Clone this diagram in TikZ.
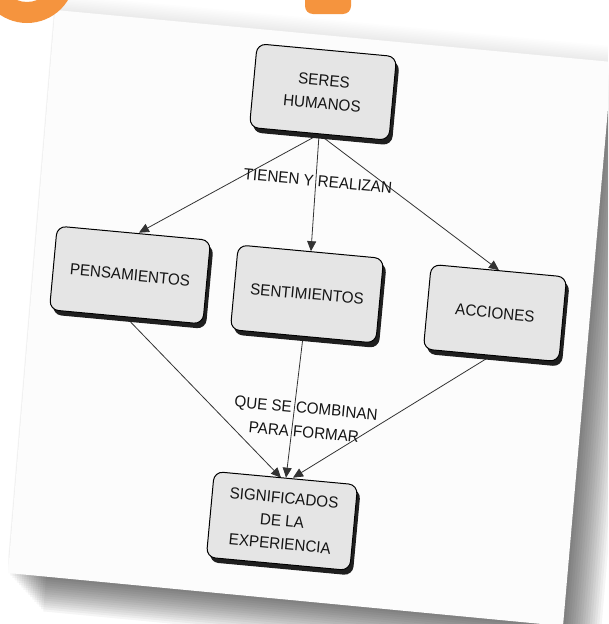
\documentclass[tikz,border=0pt]{standalone}
\usepackage{fontspec}
\setmainfont{Liberation Sans}[FakeStretch=0.95]
\usetikzlibrary{arrows.meta,shadows}
\definecolor{boxfill}{RGB}{229,229,229}
\definecolor{orng}{RGB}{245,148,62}
\definecolor{ink}{RGB}{20,20,20}
\definecolor{paperc}{RGB}{252,252,252}
\pgfdeclarelayer{back}
\pgfdeclarelayer{bg}
\pgfsetlayers{back,bg,main}
\begin{document}
\begin{tikzpicture}[x=1pt,y=-1pt,
  concept/.style={draw=black, line width=1pt, fill=boxfill, rounded corners=9pt,
    rotate=-5.3, align=center, text=ink, font=\fontsize{16}{23}\selectfont, inner sep=0pt,
    drop shadow={shadow xshift=3pt, shadow yshift=-5pt, fill=black!88, opacity=1}},
  linkword/.style={rotate=-5.3, align=center, text=ink,
    font=\fontsize{16}{24}\selectfont, inner sep=1pt},
  conn/.style={draw=black!80, line width=0.8pt, -{Triangle[length=10pt,width=9pt]}}]
\useasboundingbox (0,0) rectangle (608,624);

\begin{pgfonlayer}{back}
  \clip (0,0) rectangle (608,624);
  \fill[white] (0,0) rectangle (608,624);
  % soft shadow above the sheet
  \foreach \i in {1,...,10}
    \fill[black, opacity=0.008, shift={(0,-1.6*\i)}] (55,10) -- (612,62) -- (563,626) -- (8,573) -- cycle;
  % drop shadow of the sheet
  \foreach \i in {1,...,16}
    \fill[black, opacity=0.04, shift={(2.2*\i,2.4*\i)}] (55,10) -- (612,62) -- (563,626) -- (8,573) -- cycle;
  % the sheet
  \fill[paperc] (55,10) -- (612,62) -- (563,626) -- (8,573) -- cycle;
  % orange shapes at the top
  \fill[orng, even odd rule] (27,-25) circle[radius=48] (27,-25) circle[radius=27];
  \fill[orng, rounded corners=8pt] (305,-20) rectangle (351,14);
\end{pgfonlayer}

% concepts
\node[concept, minimum width=140pt, minimum height=84pt] (seres) at (323,92) {SERES\\HUMANOS};
\node[concept, minimum width=154pt, minimum height=84pt] (pens) at (130,275) {PENSAMIENTOS};
\node[concept, minimum width=146pt, minimum height=85pt] (sent) at (307,294) {SENTIMIENTOS};
\node[concept, minimum width=136pt, minimum height=85pt] (acc) at (495,313) {ACCIONES};
\node[concept, minimum width=144pt, minimum height=86pt] (sign) at (282,521) {SIGNIFICADOS\\DE LA\\EXPERIENCIA};

% linking words
\node[linkword] (l1) at (318,181) {TIENEN Y REALIZAN};
\node[linkword] (l2) at (305,420) {QUE SE COMBINAN\\PARA FORMAR};

% connectors
\begin{pgfonlayer}{bg}
  \draw[conn] (seres.south) -- ([xshift=5pt]pens.north);
  \draw[conn] (seres.south) -- (sent.north);
  \draw[conn] (seres.south) -- (acc.north);
  \draw[conn] (pens.south) -- ([xshift=-5pt]sign.north);
  \draw[conn] (sent.south) -- (sign.north);
  \draw[conn] (acc.south) -- ([xshift=7pt]sign.north);
\end{pgfonlayer}
\end{tikzpicture}
\end{document}
